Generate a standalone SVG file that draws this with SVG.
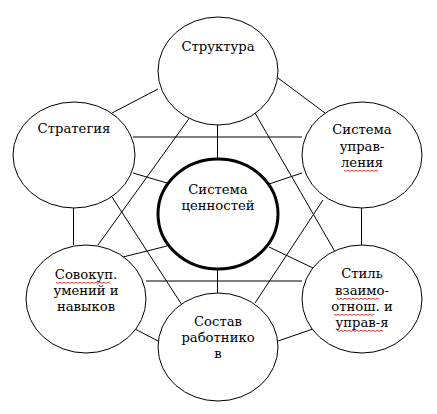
<svg xmlns="http://www.w3.org/2000/svg" width="437" height="414" viewBox="0 0 437 414">
<style>
.n{fill:#fff;stroke:#000;stroke-width:1}
.c{fill:#fff;stroke:#000;stroke-width:3}
.l{stroke:#000;stroke-width:1;fill:none}
text{font-family:'DejaVu Serif',serif;font-size:13.2px;fill:#000;text-anchor:middle}
.w{stroke:#d00;stroke-width:0.8;fill:none}
</style>
<rect width="437" height="414" fill="#fff"/>
<g id="connectors">
<line class="l" x1="158" y1="89" x2="112" y2="113"/>
<line class="l" x1="278" y1="78" x2="325" y2="113"/>
<line class="l" x1="133" y1="137" x2="302" y2="137"/>
<line class="l" x1="217.5" y1="125" x2="217.5" y2="160"/>
<line class="l" x1="133" y1="173" x2="167" y2="183"/>
<line class="l" x1="269" y1="184" x2="302" y2="173"/>
<line class="l" x1="193" y1="113" x2="98" y2="245"/>
<line class="l" x1="255" y1="113" x2="338" y2="257"/>
<line class="l" x1="112" y1="197" x2="182" y2="305"/>
<line class="l" x1="323" y1="200" x2="255" y2="303"/>
<line class="l" x1="73.5" y1="208" x2="73.5" y2="245"/>
<line class="l" x1="361.5" y1="208" x2="361.5" y2="245"/>
<line class="l" x1="123" y1="257" x2="167" y2="246"/>
<line class="l" x1="269" y1="247" x2="313" y2="268"/>
<line class="l" x1="146" y1="281" x2="302" y2="281"/>
<line class="l" x1="217.5" y1="269" x2="217.5" y2="293"/>
<line class="l" x1="135" y1="329" x2="158" y2="341"/>
<line class="l" x1="278" y1="341" x2="313" y2="329"/>
</g>
<g id="structure">
<ellipse class="n" cx="218" cy="71" rx="60" ry="54"/>
<text x="218" y="51">Структура</text>
</g>
<g id="strategy">
<ellipse class="n" cx="74" cy="155" rx="61" ry="53"/>
<text x="74" y="133">Стратегия</text>
</g>
<g id="management">
<ellipse class="n" cx="362" cy="155" rx="60" ry="53"/>
<text x="362" y="134">Система</text>
<text x="362" y="151">управ-</text>
<text x="362" y="167">ления</text>
<path class="w" d="M344 170 l2 1.5 l2 -1.5 l2 1.5 l2 -1.5 l2 1.5 l2 -1.5 l2 1.5 l2 -1.5 l2 1.5 l2 -1.5 l2 1.5 l2 -1.5 l2 1.5 l2 -1.5 l2 1.5 l2 -1.5 l2 1.5"/>
</g>
<g id="values">
<ellipse class="c" cx="218" cy="214" rx="60" ry="55"/>
<text x="218" y="194">Система</text>
<text x="218" y="210">ценностей</text>
</g>
<g id="skills">
<ellipse class="n" cx="86" cy="299" rx="60" ry="54"/>
<text x="86" y="279">Совокуп.</text>
<text x="86" y="295">умений и</text>
<text x="86" y="311">навыков</text>
<path class="w" d="M56 282 l2 1.5 l2 -1.5 l2 1.5 l2 -1.5 l2 1.5 l2 -1.5 l2 1.5 l2 -1.5 l2 1.5 l2 -1.5 l2 1.5 l2 -1.5 l2 1.5 l2 -1.5 l2 1.5 l2 -1.5 l2 1.5 l2 -1.5 l2 1.5 l2 -1.5 l2 1.5 l2 -1.5 l2 1.5 l2 -1.5 l2 1.5 l2 -1.5 l2 1.5"/>
</g>
<g id="staff">
<ellipse class="n" cx="218" cy="347" rx="60" ry="54"/>
<text x="218" y="326">Состав</text>
<text x="218" y="342">работнико</text>
<text x="218" y="358">в</text>
</g>
<g id="style">
<ellipse class="n" cx="362" cy="299" rx="60" ry="54"/>
<text x="362" y="278">Стиль</text>
<text x="362" y="295">взаимо-</text>
<text x="362" y="311">отнош. и</text>
<text x="362" y="327">управ-я</text>
<path class="w" d="M337 298 l2 1.5 l2 -1.5 l2 1.5 l2 -1.5 l2 1.5 l2 -1.5 l2 1.5 l2 -1.5 l2 1.5 l2 -1.5 l2 1.5 l2 -1.5 l2 1.5 l2 -1.5 l2 1.5 l2 -1.5 l2 1.5 l2 -1.5 l2 1.5 l2 -1.5 l2 1.5"/>
<path class="w" d="M334 314 l2 1.5 l2 -1.5 l2 1.5 l2 -1.5 l2 1.5 l2 -1.5 l2 1.5 l2 -1.5 l2 1.5 l2 -1.5 l2 1.5 l2 -1.5 l2 1.5 l2 -1.5 l2 1.5 l2 -1.5 l2 1.5 l2 -1.5 l2 1.5 l2 -1.5"/>
<path class="w" d="M337 330 l2 1.5 l2 -1.5 l2 1.5 l2 -1.5 l2 1.5 l2 -1.5 l2 1.5 l2 -1.5 l2 1.5 l2 -1.5 l2 1.5 l2 -1.5 l2 1.5 l2 -1.5 l2 1.5 l2 -1.5 l2 1.5 l2 -1.5 l2 1.5 l2 -1.5 l2 1.5 l2 -1.5 l2 1.5"/>
</g>
</svg>
